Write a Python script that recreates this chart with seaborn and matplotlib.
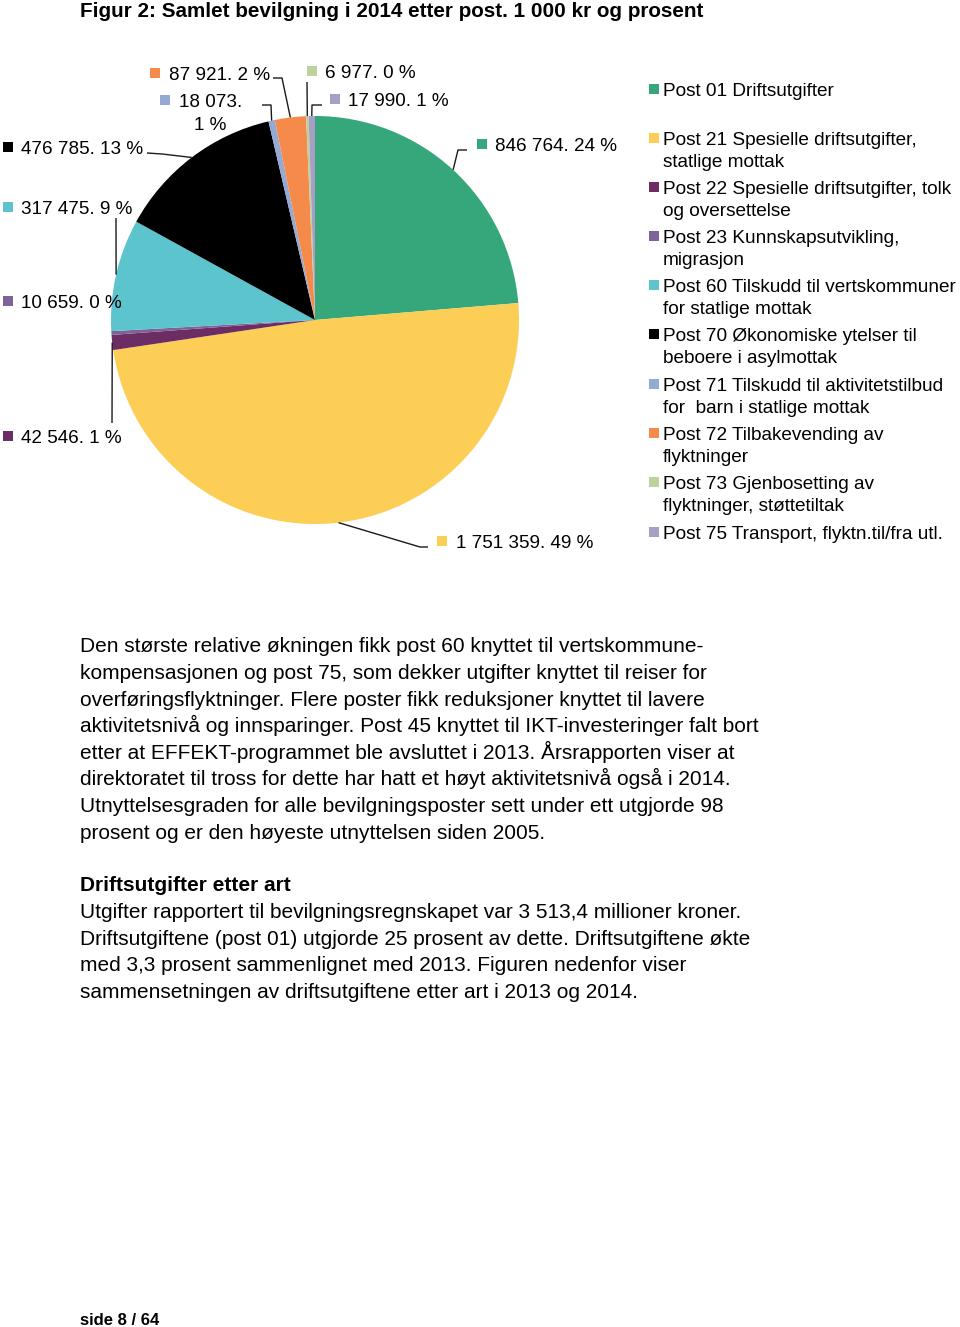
import matplotlib
matplotlib.use("Agg")
import matplotlib.pyplot as plt
import seaborn as sns
import numpy as np
from matplotlib.patches import Rectangle

# ---------------- data ----------------
posts = ["Post 01", "Post 21", "Post 22", "Post 23", "Post 60",
         "Post 70", "Post 71", "Post 72", "Post 73", "Post 75"]
values = [846764, 1751359, 42546, 10659, 317475, 476785, 18073, 87921, 6977, 17990]
legend_labels = [
    ["Post 01 Driftsutgifter"],
    ["Post 21 Spesielle driftsutgifter,", "statlige mottak"],
    ["Post 22 Spesielle driftsutgifter, tolk", "og oversettelse"],
    ["Post 23 Kunnskapsutvikling,", "migrasjon"],
    ["Post 60 Tilskudd til vertskommuner", "for statlige mottak"],
    ["Post 70 Økonomiske ytelser til", "beboere i asylmottak"],
    ["Post 71 Tilskudd til aktivitetstilbud", "for  barn i statlige mottak"],
    ["Post 72 Tilbakevending av", "flyktninger"],
    ["Post 73 Gjenbosetting av", "flyktninger, støttetiltak"],
    ["Post 75 Transport, flyktn.til/fra utl."],
]
colors = ["#35A77B", "#FDCE55", "#6B2D63", "#7D6397", "#5CC4CC",
          "#000000", "#94AAD4", "#F48B4B", "#BCD39B", "#A99EC6"]

title = "Figur 2: Samlet bevilgning i 2014 etter post. 1 000 kr og prosent"
body1 = [
    "Den største relative økningen fikk post 60 knyttet til vertskommune-",
    "kompensasjonen og post 75, som dekker utgifter knyttet til reiser for",
    "overføringsflyktninger. Flere poster fikk reduksjoner knyttet til lavere",
    "aktivitetsnivå og innsparinger. Post 45 knyttet til IKT-investeringer falt bort",
    "etter at EFFEKT-programmet ble avsluttet i 2013. Årsrapporten viser at",
    "direktoratet til tross for dette har hatt et høyt aktivitetsnivå også i 2014.",
    "Utnyttelsesgraden for alle bevilgningsposter sett under ett utgjorde 98",
    "prosent og er den høyeste utnyttelsen siden 2005.",
]
heading = "Driftsutgifter etter art"
body2 = [
    "Utgifter rapportert til bevilgningsregnskapet var 3 513,4 millioner kroner.",
    "Driftsutgiftene (post 01) utgjorde 25 prosent av dette. Driftsutgiftene økte",
    "med 3,3 prosent sammenlignet med 2013. Figuren nedenfor viser",
    "sammensetningen av driftsutgiftene etter art i 2013 og 2014.",
]
footer = "side 8 / 64"

# ---------------- layout (pixels) ----------------
W, H = 960, 1327
CX, CY, R = 315, 320, 204
# data label: (square x, center y, text x, leader path points after wedge midpoint)
label_layout = [
    (477, 144, 495, [(458, 150), (467, 150)]),
    (437, 541, 456, [(420, 547), (428, 547)]),
    (3, 436, 21, [(112, 423)]),
    (3, 301, 21, []),
    (3, 207, 21, [(116, 218)]),
    (3, 147, 21, [(162, 154), (147, 153)]),
    (160, 100, 179, [(271, 105), (262, 105)]),
    (150, 73, 169, [(282, 78), (273, 78)]),
    (307, 71, 325, [(307, 82)]),
    (330, 99, 348, [(312, 105), (322, 105)]),
]
legend_y = [89, 138, 187, 236, 285, 334, 384, 433, 482, 532]

sns.set_theme(style="white")
plt.rcParams["font.family"] = ["Liberation Sans", "DejaVu Sans"]

fig = plt.figure(figsize=(W / 100, H / 100), dpi=100)
ax = fig.add_axes([0, 0, 1, 1])
pal = sns.color_palette(colors)
wedges, _ = ax.pie(values, colors=pal, startangle=270, counterclock=True,
                   center=(CX, CY), radius=R, wedgeprops=dict(linewidth=0))
ax.set_xlim(0, W)
ax.set_ylim(H, 0)
ax.set_aspect("auto")
ax.axis("off")


def txt(x, yc, s, size, bold=False, ha="left"):
    em = size * 100 / 72
    ax.text(x, yc + 0.358 * em, s, fontsize=size, ha=ha, va="baseline",
            fontweight="bold" if bold else "normal", color="black")


total = sum(values)
LS = 13.6
for i, (v, w) in enumerate(zip(values, wedges)):
    sx, sy, tx, path = label_layout[i]
    th = np.deg2rad((w.theta1 + w.theta2) / 2)
    mx, my = CX + R * np.cos(th), CY + R * np.sin(th)
    if path:
        xs = [mx] + [p[0] for p in path]
        ys = [my] + [p[1] for p in path]
        ax.plot(xs, ys, color="#1a1a1a", lw=1.0, solid_capstyle="butt")
    ax.add_patch(Rectangle((sx, sy - 5), 10, 10, color=colors[i], lw=0))
    num = f"{v:,}".replace(",", " ")
    pct = int(round(v / total * 100))
    if posts[i] == "Post 71":
        txt(tx + 31.5, sy, f"{num}.", LS, ha="center")
        txt(tx + 31.5, sy + 23, f"{pct} %", LS, ha="center")
    else:
        txt(tx, sy, f"{num}. {pct} %", LS)

# legend
for i, lines in enumerate(legend_labels):
    y0 = legend_y[i]
    ax.add_patch(Rectangle((649, y0 - 5), 10, 10, color=colors[i], lw=0))
    for j, line in enumerate(lines):
        txt(663, y0 + 22 * j, line, 13.7)

# texts
txt(80, 10, title, 14.9, bold=True)
for k, line in enumerate(body1):
    txt(80, 645 + 26.6 * k, line, 15)
txt(80, 884, heading, 15, bold=True)
for k, line in enumerate(body2):
    txt(80, 911 + 26.4 * k, line, 15)
txt(80, 1319, footer, 12, bold=True)

fig.savefig("out.png", dpi=100, facecolor="white")
